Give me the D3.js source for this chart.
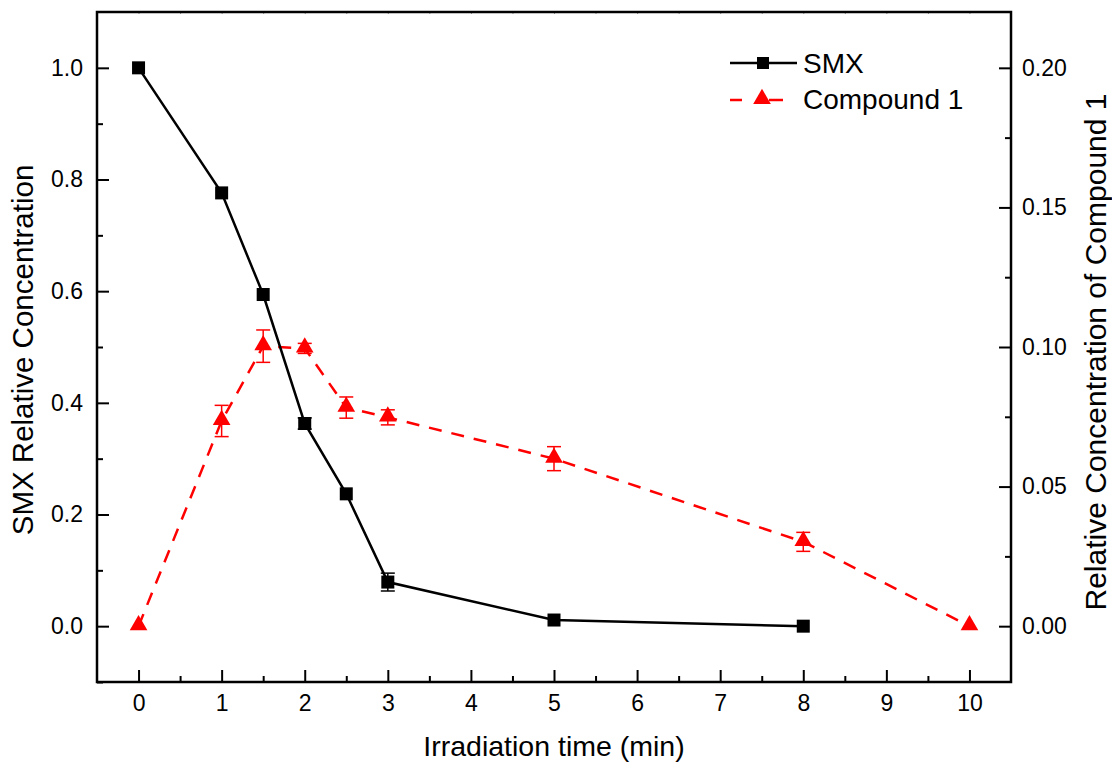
<!DOCTYPE html>
<html>
<head>
<meta charset="utf-8">
<script src="https://cdn.jsdelivr.net/npm/d3@7"></script>
<style>
  body { margin: 0; background: #fff; }
  svg text { font-family: "Liberation Sans", Arial, sans-serif; fill: #000; }
</style>
</head>
<body>
<svg id="chart" width="1112" height="763"></svg>
<script>
// data
const smxTime = [0, 1, 1.5, 2, 2.5, 3, 5, 8];
const smxValue = [1.0, 0.776, 0.594, 0.363, 0.237, 0.079, 0.011, 0.0];
const smxError = [0, 0, 0, 0.01, 0, 0.016, 0, 0];

const compTime = [0, 1, 1.5, 2, 2.5, 3, 5, 8, 10];
const compValue = [0.0, 0.0735, 0.1003, 0.0995, 0.0783, 0.0748, 0.060, 0.0302, 0.0];
const compError = [0, 0.0056, 0.0058, 0.0018, 0.0038, 0.0027, 0.0043, 0.0034, 0];

const xTicks = [0, 1, 2, 3, 4, 5, 6, 7, 8, 9, 10];
const leftTicks = [0.0, 0.2, 0.4, 0.6, 0.8, 1.0];
const rightTicks = [0.00, 0.05, 0.10, 0.15, 0.20];

const svg = d3.select("#chart");
const plotLeft = 97, plotRight = 1011, plotTop = 12, plotBottom = 682;

// scales
const x = d3.scaleLinear().domain([-0.5, 10.5]).range([plotLeft, plotRight]);
const yL = d3.scaleLinear().domain([-0.1, 1.1]).range([plotBottom, plotTop]);
const yR = d3.scaleLinear().domain([-0.02, 0.22]).range([plotBottom, plotTop]);

// axes (ticks pointing inward)
function styleAxis(g) {
  g.select(".domain").remove();
  g.selectAll(".tick line").attr("stroke", "#000").attr("stroke-width", 2);
  g.selectAll(".tick text").attr("font-size", 23);
}

const minorX = d3.range(0.5, 10, 1);
svg.append("g")
  .attr("transform", "translate(0," + plotBottom + ")")
  .call(d3.axisBottom(x).tickValues(minorX).tickSize(-6).tickFormat(""))
  .call(styleAxis);
svg.append("g")
  .attr("transform", "translate(0," + plotBottom + ")")
  .call(d3.axisBottom(x).tickValues(xTicks).tickSize(-12).tickPadding(13).tickFormat(d3.format("d")))
  .call(styleAxis);

const minorL = [-0.1, 0.1, 0.3, 0.5, 0.7, 0.9];
svg.append("g")
  .attr("transform", "translate(" + plotLeft + ",0)")
  .call(d3.axisLeft(yL).tickValues(minorL).tickSize(-6).tickFormat(""))
  .call(styleAxis);
svg.append("g")
  .attr("transform", "translate(" + plotLeft + ",0)")
  .call(d3.axisLeft(yL).tickValues(leftTicks).tickSize(-12).tickPadding(14).tickFormat(d3.format(".1f")))
  .call(styleAxis);

const minorR = [0.025, 0.075, 0.125, 0.175];
svg.append("g")
  .attr("transform", "translate(" + plotRight + ",0)")
  .call(d3.axisRight(yR).tickValues(minorR).tickSize(-6).tickFormat(""))
  .call(styleAxis);
svg.append("g")
  .attr("transform", "translate(" + plotRight + ",0)")
  .call(d3.axisRight(yR).tickValues(rightTicks).tickSize(-12).tickPadding(11).tickFormat(d3.format(".2f")))
  .call(styleAxis);

// tiny ticks on the top edge
svg.append("g")
  .attr("transform", "translate(0," + plotTop + ")")
  .call(d3.axisTop(x).tickValues(xTicks.concat(minorX)).tickSize(-2).tickFormat(""))
  .call(g => {
    g.select(".domain").remove();
    g.selectAll(".tick line").attr("stroke", "#999").attr("stroke-width", 1);
  });

// frame
svg.append("rect")
  .attr("x", plotLeft).attr("y", plotTop)
  .attr("width", plotRight - plotLeft).attr("height", plotBottom - plotTop)
  .attr("fill", "none").attr("stroke", "#000").attr("stroke-width", 2.5);

// axis titles
svg.append("text")
  .attr("x", (plotLeft + plotRight) / 2).attr("y", 756)
  .attr("text-anchor", "middle").attr("font-size", 28.5)
  .text("Irradiation time (min)");
svg.append("text")
  .attr("transform", "translate(33,350) rotate(-90)")
  .attr("text-anchor", "middle").attr("font-size", 29.5)
  .text("SMX Relative Concentration");
svg.append("text")
  .attr("transform", "translate(1106,352) rotate(-90)")
  .attr("text-anchor", "middle").attr("font-size", 30)
  .text("Relative Concentration of Compound 1");

const smx = smxTime.map((t, i) => ({ t: t, v: smxValue[i], e: smxError[i] }));
const comp = compTime.map((t, i) => ({ t: t, v: compValue[i], e: compError[i] }));

// lines
svg.append("path")
  .datum(comp)
  .attr("d", d3.line().x(d => x(d.t)).y(d => yR(d.v)))
  .attr("fill", "none").attr("stroke", "#ff0000").attr("stroke-width", 2.5)
  .attr("stroke-dasharray", "13,10");
svg.append("path")
  .datum(smx)
  .attr("d", d3.line().x(d => x(d.t)).y(d => yL(d.v)))
  .attr("fill", "none").attr("stroke", "#000").attr("stroke-width", 2.5);

// error bars
function errorBars(data, y, color) {
  const g = svg.append("g").attr("stroke", color).attr("stroke-width", 1.5);
  const eb = g.selectAll("g").data(data.filter(d => d.e > 0)).enter().append("g");
  eb.append("line")
    .attr("x1", d => x(d.t)).attr("x2", d => x(d.t))
    .attr("y1", d => y(d.v + d.e)).attr("y2", d => y(d.v - d.e));
  eb.append("line")
    .attr("x1", d => x(d.t) - 7).attr("x2", d => x(d.t) + 7)
    .attr("y1", d => y(d.v + d.e)).attr("y2", d => y(d.v + d.e));
  eb.append("line")
    .attr("x1", d => x(d.t) - 7).attr("x2", d => x(d.t) + 7)
    .attr("y1", d => y(d.v - d.e)).attr("y2", d => y(d.v - d.e));
}
errorBars(comp, yR, "#ff0000");
errorBars(smx, yL, "#000");

// markers
const tri = d3.symbol().type(d3.symbolTriangle).size(135);
svg.append("g").selectAll("path")
  .data(comp).enter().append("path")
  .attr("d", tri)
  .attr("transform", d => "translate(" + x(d.t) + "," + (yR(d.v) - 1) + ")")
  .attr("fill", "#ff0000");
svg.append("g").selectAll("rect")
  .data(smx).enter().append("rect")
  .attr("x", d => x(d.t) - 6.5).attr("y", d => yL(d.v) - 6.5)
  .attr("width", 13).attr("height", 13)
  .attr("fill", "#000");

// legend
const legend = svg.append("g");
legend.append("line")
  .attr("x1", 730).attr("x2", 797).attr("y1", 63).attr("y2", 63)
  .attr("stroke", "#000").attr("stroke-width", 2.5);
legend.append("rect")
  .attr("x", 757).attr("y", 57).attr("width", 12).attr("height", 12).attr("fill", "#000");
legend.append("text")
  .attr("x", 803).attr("y", 73).attr("font-size", 28).text("SMX");
legend.append("line")
  .attr("x1", 730).attr("x2", 742).attr("y1", 100).attr("y2", 100)
  .attr("stroke", "#ff0000").attr("stroke-width", 2.5);
legend.append("line")
  .attr("x1", 769).attr("x2", 783).attr("y1", 100).attr("y2", 100)
  .attr("stroke", "#ff0000").attr("stroke-width", 2.5);
legend.append("path")
  .attr("d", tri)
  .attr("transform", "translate(762,99)")
  .attr("fill", "#ff0000");
legend.append("text")
  .attr("x", 803).attr("y", 109).attr("font-size", 28).text("Compound 1");
</script>
</body>
</html>
